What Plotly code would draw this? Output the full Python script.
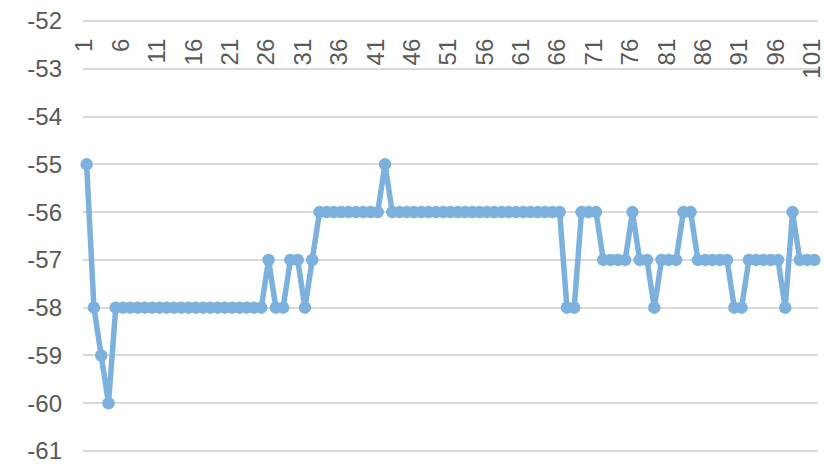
import plotly.graph_objects as go

# Category labels (sample numbers) and measured values
categories = list(range(1, 102))
values = [
    -55, -58, -59, -60, -58, -58, -58, -58, -58, -58,
    -58, -58, -58, -58, -58, -58, -58, -58, -58, -58,
    -58, -58, -58, -58, -58, -57, -58, -58, -57, -57,
    -58, -57, -56, -56, -56, -56, -56, -56, -56, -56,
    -56, -55, -56, -56, -56, -56, -56, -56, -56, -56,
    -56, -56, -56, -56, -56, -56, -56, -56, -56, -56,
    -56, -56, -56, -56, -56, -56, -58, -58, -56, -56,
    -56, -57, -57, -57, -57, -56, -57, -57, -58, -57,
    -57, -57, -56, -56, -57, -57, -57, -57, -57, -58,
    -58, -57, -57, -57, -57, -57, -58, -56, -57, -57,
    -57,
]
x_tick_labels = ["1", "6", "11", "16", "21", "26", "31", "36", "41", "46", "51",
                 "56", "61", "66", "71", "76", "81", "86", "91", "96", "101"]
y_ticks = [-52, -53, -54, -55, -56, -57, -58, -59, -60, -61]

LINE_BLUE = "#7DB1DD"
GRID = "#D9D9D9"
TEXT = "#595959"
FONT = "Liberation Sans, Arial, sans-serif"

fig = go.Figure(
    go.Scatter(
        x=categories,
        y=values,
        mode="lines+markers",
        line=dict(color=LINE_BLUE, width=5.5),
        marker=dict(color=LINE_BLUE, size=12.5),
        hoverinfo="x+y",
        cliponaxis=False,
    )
)

fig.update_layout(
    width=825,
    height=464,
    margin=dict(l=83, r=7, t=19, b=10.5),
    paper_bgcolor="white",
    plot_bgcolor="white",
    showlegend=False,
    font=dict(family=FONT, color=TEXT, size=24),
)

# Category axis sits just under the top gridline, labels hanging downward
fig.update_xaxes(
    range=[0.5, 101.5],
    anchor="free",
    position=0.968,
    side="bottom",
    automargin=False,
    tickmode="array",
    tickvals=[int(t) for t in x_tick_labels],
    ticktext=x_tick_labels,
    tickangle=-90,
    ticks="",
    ticklabelshift=-2,
    ticklabeloverflow="allow",
    showgrid=False,
    zeroline=False,
    showline=False,
    tickfont=dict(size=24, color=TEXT, family=FONT),
)

# A little padding past -61 and -52 so both end gridlines are drawn
fig.update_yaxes(
    range=[-61.04, -51.96],
    automargin=False,
    tickmode="array",
    tickvals=y_ticks,
    ticktext=[str(v) for v in y_ticks],
    showgrid=True,
    gridcolor=GRID,
    gridwidth=2,
    zeroline=False,
    showline=False,
    ticks="",
    ticklabelstandoff=20,
    ticklabeloverflow="allow",
    tickfont=dict(size=24, color=TEXT, family=FONT),
)

fig.write_html("out.html")
